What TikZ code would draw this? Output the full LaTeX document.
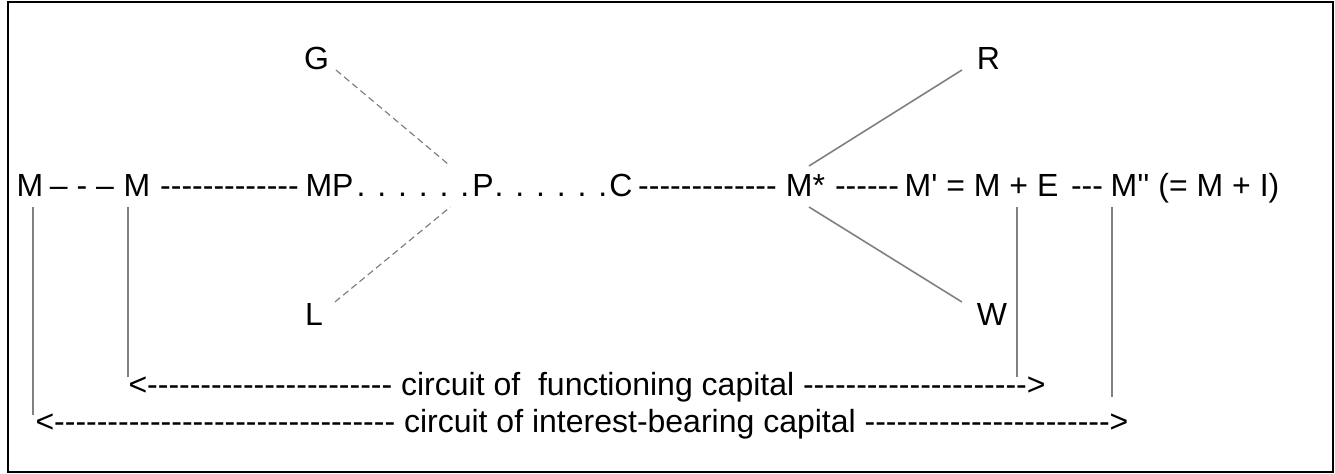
\documentclass[tikz,border=0pt]{standalone}
\usepackage{fontspec}
\setmainfont{Liberation Sans}[Ligatures=TeXOff]
\usetikzlibrary{calc}
\definecolor{linegray}{RGB}{128,128,128}
\begin{document}
\begin{tikzpicture}[x=0.75pt,y=-0.75pt,
  txt/.style={inner sep=0pt, outer sep=0pt, anchor=base, font=\fontsize{24pt}{28pt}\selectfont},
  rowtxt/.style={txt, anchor=base west},
  vline/.style={draw=linegray, line width=1.5pt},
  dline/.style={draw=linegray, line width=0.9pt, dash pattern=on 5pt off 3pt},
  sline/.style={draw=linegray, line width=1.2pt}]
\useasboundingbox (0,0) rectangle (1335,474);
\draw[line width=1.5pt] (8,2) rectangle (1333,472);
% main line
\node[txt] (M1) at (30,197) {M};
\node[txt] (d0) at (82,197) {– - –};
\node[txt] (M2) at (137,197) {M};
\node[txt] (d1) at (229.5,197) {-------------};
\node[txt] (MP) at (329.5,197) {MP};
\node[txt] (dots1) at (413,197) {. . . . . .};
\node[txt] (P) at (483,197) {P};
\node[txt] (dots2) at (551,197) {. . . . . .};
\node[txt] (C) at (621,197) {C};
\node[txt] (d2) at (707.5,197) {-------------};
\node[txt] (Ms) at (805.5,197) {M*};
\node[txt] (d3) at (867,197) {------};
\node[txt] (Mp) at (981.5,197) {M' = M + E};
\node[txt] (d4) at (1087,197) {---};
\node[txt] (Mpp) at (1195,197) {M'' (= M + I)};
% branch nodes
\node[txt] (G) at (316.5,70) {G};
\node[txt] (L) at (314,325) {L};
\node[txt] (R) at (988.5,70) {R};
\node[txt] (W) at (992,325) {W};
% bottom rows
\node[rowtxt] (row1) at (128.5,395) {<----------------------- circuit of\ \ functioning capital --------------------->};
\node[rowtxt] (row2) at (35.5,432) {<-------------------------------- circuit of interest-bearing capital ----------------------->};
% coordinates
\coordinate (pg) at ($(P.north west)+(-22,-9)$);
\coordinate (pl) at ($(P.base west)+(-22,10)$);
\coordinate (mr) at ($(Ms.north)+(3.5,-9)$);
\coordinate (mw) at ($(Ms.base)+(3.5,10)$);
\coordinate (c1) at (33,415);
\coordinate (c2) at (128,377);
\coordinate (c3) at (1017,377);
\coordinate (c4) at (1112,397);
% connectors
\draw[dline] ($(G.base east)+(7,0)$) -- (pg);
\draw[dline] ($(L.north east)+(12,-1)$) -- (pl);
\draw[sline] ($(R.base west)+(-15,0)$) -- (mr);
\draw[sline] (mw) -- ($(W.north west)+(-15,-1)$);
\draw[vline] ($(c1 |- M1.base)+(0,10)$) -- (c1);
\draw[vline] ($(c2 |- M2.base)+(0,10)$) -- (c2);
\draw[vline] ($(c3 |- Mp.base)+(0,10)$) -- (c3);
\draw[vline] ($(c4 |- Mpp.base)+(0,10)$) -- (c4);
\end{tikzpicture}
\end{document}
